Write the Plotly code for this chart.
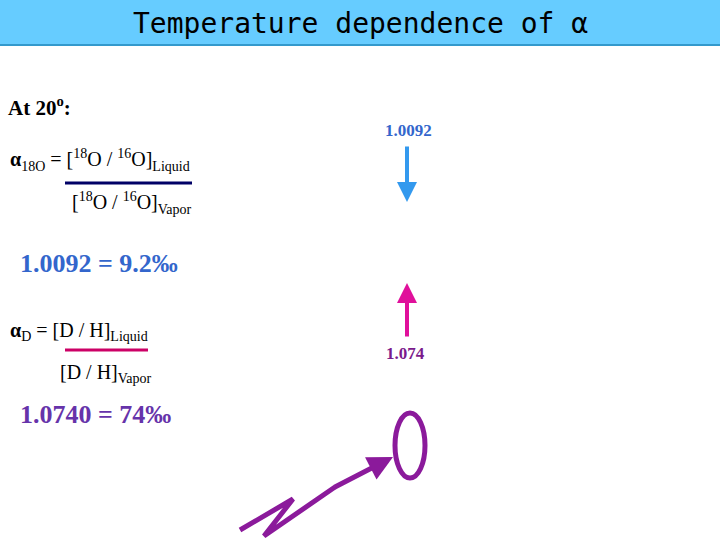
import plotly.graph_objects as go

title_text = "Temperature dependence of α"
values_text = ["1.0092", "1.074"]
eq_text = ["1.0092 = 9.2‰", "1.0740 = 74‰"]

fig = go.Figure()
fig.update_layout(width=720, height=540, margin=dict(l=0, r=0, t=0, b=0),
                  plot_bgcolor="white", paper_bgcolor="white", showlegend=False)
fig.update_xaxes(range=[0, 720], visible=False, fixedrange=True)
fig.update_yaxes(range=[540, 0], visible=False, fixedrange=True)

# title bar
fig.add_shape(type="rect", x0=0, x1=720, y0=0, y1=45, fillcolor="#66CCFF", line_width=0)
fig.add_shape(type="line", x0=0, x1=720, y0=45, y1=45, line=dict(color="#3399CC", width=2))
fig.add_annotation(x=360, y=23, text=title_text, showarrow=False,
                   font=dict(family="DejaVu Sans Mono", size=28, color="black"))

serif = "Liberation Serif"
def txt(x, y, t, size=18, color="black", bold=False, anchor="left"):
    if bold:
        t = "<b>" + t + "</b>"
    fig.add_annotation(x=x, y=y, text=t, showarrow=False, xanchor=anchor,
                       font=dict(family=serif, size=size, color=color))

txt(6, 106, "At 20<sup>o</sup>:", 21, bold=True)
txt(8, 160, "<b>α</b><sub>18O</sub> = [<sup>18</sup>O / <sup>16</sup>O]<sub>Liquid</sub>", 20)
fig.add_shape(type="line", x0=65, x1=192, y0=183, y1=183, line=dict(color="#000066", width=3))
txt(70, 203, "[<sup>18</sup>O / <sup>16</sup>O]<sub>Vapor</sub>", 20)
txt(18, 263, eq_text[0], 26, color="#3366CC", bold=True)

txt(8, 331, "<b>α</b><sub>D</sub> = [D / H]<sub>Liquid</sub>", 20)
fig.add_shape(type="line", x0=65, x1=148, y0=350, y1=350, line=dict(color="#CC0066", width=3))
txt(58, 373, "[D / H]<sub>Vapor</sub>", 20)
txt(18, 414, eq_text[1], 26, color="#6633AA", bold=True)

txt(408, 130, values_text[0], 17, color="#3366CC", bold=True, anchor="center")
txt(405, 353, values_text[1], 17, color="#7A1A8C", bold=True, anchor="center")

# arrows
fig.add_annotation(x=407, y=202, ax=407, ay=145, xref="x", yref="y", axref="x", ayref="y",
                   text="", showarrow=True, arrowhead=2, arrowsize=1, arrowwidth=4, arrowcolor="#3399EE")
fig.add_annotation(x=407, y=283, ax=407, ay=338, xref="x", yref="y", axref="x", ayref="y",
                   text="", showarrow=True, arrowhead=2, arrowsize=1, arrowwidth=4, arrowcolor="#E0109B")

# oval
fig.add_shape(type="circle", x0=395, x1=425, y0=413, y1=478, line=dict(color="#8B1A9B", width=5))

# squiggle
fig.add_shape(type="path", path="M 240 530 L 293 499 L 264 536 L 335 487",
              line=dict(color="#8B1A9B", width=5))
fig.add_annotation(x=393, y=457, ax=333, ay=488, xref="x", yref="y", axref="x", ayref="y",
                   text="", showarrow=True, arrowhead=2, arrowsize=1, arrowwidth=5, arrowcolor="#8B1A9B")

fig.write_html("out.html", config={"displayModeBar": False},
               post_script="document.body.style.margin='0';")
